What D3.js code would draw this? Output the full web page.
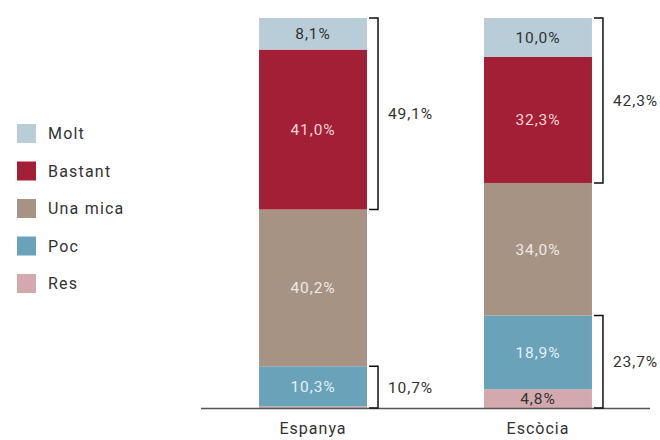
<!DOCTYPE html>
<html><head><meta charset="utf-8">
<script src="https://cdn.jsdelivr.net/npm/d3@7/dist/d3.min.js"></script>
<style>body{margin:0;background:#fff}svg{display:block}text{font-family:Roboto,"DejaVu Sans",sans-serif}</style>
</head><body><svg id="c" width="660" height="440"></svg>
<script>
const categories = ["Espanya", "Escòcia"];
const seriesNames = ["Res", "Poc", "Una mica", "Bastant", "Molt"];
const res     = [0.4, 4.8];
const poc     = [10.3, 18.9];
const unaMica = [40.2, 34.0];
const bastant = [41.0, 32.3];
const molt    = [8.1, 10.0];
const legendOrder = ["Molt", "Bastant", "Una mica", "Poc", "Res"];
const colors = {"Molt":"#b9cdd8","Bastant":"#a31f36","Una mica":"#a69383","Poc":"#6aa2ba","Res":"#d4a9ae"};
const labelColors = {"Molt":"#333","Bastant":"#f2d3d8","Una mica":"#efe9e3","Poc":"#e3f0f5","Res":"#333"};
// bracket groups: [category index, from series, to series, label]
const brackets = [
  [0, "Bastant", "Molt", "49,1%"],
  [0, "Res", "Poc", "10,7%"],
  [1, "Bastant", "Molt", "42,3%"],
  [1, "Res", "Poc", "23,7%"]
];

const valuesBy = {"Res":res,"Poc":poc,"Una mica":unaMica,"Bastant":bastant,"Molt":molt};
const table = categories.map((c,i)=>{const o={cat:c}; seriesNames.forEach(s=>o[s]=valuesBy[s][i]); return o;});
const stack = d3.stack().keys(seriesNames)(table);

const svg = d3.select("#c");
const x = d3.scaleBand().domain(categories).range([201, 650]).paddingInner(0.52).paddingOuter(0.258);
const y = d3.scaleLinear().domain([0, 100]).range([408, 18]);
const fmt = v => d3.format(".1f")(v).replace(".", ",") + "%";

stack.forEach(layer => {
  const g = svg.append("g");
  layer.forEach((d,i) => {
    const cat = categories[i];
    g.append("rect").attr("x", x(cat)).attr("width", x.bandwidth())
      .attr("y", y(d[1])).attr("height", y(d[0]) - y(d[1]))
      .attr("fill", colors[layer.key]);
    const v = d[1]-d[0];
    if (v >= 2) {
      g.append("text").attr("x", x(cat)+x.bandwidth()/2).attr("y", (y(d[0])+y(d[1]))/2)
        .attr("dy","0.35em").attr("text-anchor","middle").attr("font-size",15.5)
        .attr("letter-spacing", "0.9px")
        .attr("fill", labelColors[layer.key]).text(fmt(v));
    }
  });
});

// axis line
svg.append("line").attr("x1",201).attr("x2",650).attr("y1",408.5).attr("y2",408.5)
  .attr("stroke","#555").attr("stroke-width",1.5);

// category labels
const xAxis = d3.axisBottom(x).tickSize(0).tickPadding(0);
const ax = svg.append("g").attr("transform","translate(0,423)").call(xAxis);
ax.select(".domain").remove();
ax.selectAll("text").attr("font-size",16).attr("fill","#333").attr("letter-spacing","1px")
  .style("font-family","Roboto,sans-serif");

// brackets
brackets.forEach(([ci, from, to, label]) => {
  const cat = categories[ci];
  const lo = stack.find(l=>l.key===from)[ci][0];
  const hi = stack.find(l=>l.key===to)[ci][1];
  const bx = x(cat) + x.bandwidth() + 11;
  const y0 = y(lo), y1 = y(hi);
  svg.append("path").attr("d", `M${bx-9},${y1}H${bx}V${y0}H${bx-9}`)
    .attr("fill","none").attr("stroke","#111").attr("stroke-width",1.5);
  svg.append("text").attr("x", bx+10).attr("y",(y0+y1)/2).attr("dy","0.35em")
    .attr("font-size",15.5).attr("fill","#333").attr("letter-spacing","0.9px").text(label);
});

// legend
const lg = svg.append("g");
legendOrder.forEach((s,i) => {
  const yy = 124 + i*37.5;
  lg.append("rect").attr("x",17).attr("y",yy).attr("width",19).attr("height",19).attr("fill",colors[s]);
  lg.append("text").attr("x",48).attr("y",yy+9.5).attr("dy","0.35em").attr("font-size",16)
    .attr("fill","#333").attr("letter-spacing","1.2px").text(s);
});
</script></body></html>
